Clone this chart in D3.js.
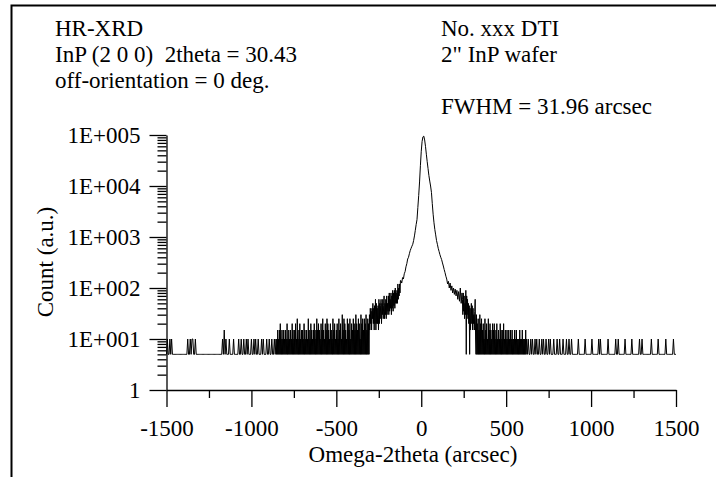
<!DOCTYPE html>
<html>
<head>
<meta charset="utf-8">
<script src="https://cdn.jsdelivr.net/npm/d3@7"></script>
<style>
  body { margin: 0; background: #fff; }
  svg { display: block; }
  text { font-family: "Liberation Serif", "Times New Roman", serif; fill: #000; }
</style>
</head>
<body>
<div class="canvas"></div>
<script>
// ---- data ----
// count codes used by the noisy segments
const codeChars = '123456789abcdefghij';
const codeCounts = [5, 10, 15, 20, 25, 30, 35, 40, 45, 50, 60, 70, 80, 90, 100, 120, 140, 160, 190];

const farLeft = ['12112121111111111', '1111111', '1211212211211111',
  '11111111111111111111111', '111213121112111121111121',
  '1211211212111211212112111212111211211211212'].join('');
const leftWing = ['12131213141213121312', '13121412131213121413', '12131412151213141213',
  '13121413121312151312', '14131213141213151314', '13121413151312141315',
  '14131214131215131412', '13141215131412161315', '14131215141315121413',
  '15141316141315141216', '14151315141613151416'].join('');
const leftShoulder = ['3847385a48394b3a48', '493b4a59b4a6b59c5a',
  '6b5c6a7c6d7b8d6c8e', '7d9e8fadaeagbfcgdh'].join('');
// peak, -120 .. +240 arcsec (counts)
const coreCounts = [140, 125, 160, 150,
  190, 210, 260, 300, 370, 400, 470, 540, 600, 660,
  720, 850, 1050, 1350, 1750, 2200, 3800, 6500, 12000, 25000,
  48000, 75000, 92000, 95000, 80000, 60000, 42000, 30000, 22000, 16000,
  12500, 10000, 7500, 4500, 2800, 1900, 1400, 1100, 850, 720,
  600, 520, 450, 400, 360, 310, 270, 230, 200, 170,
  150, 120, 135, 100, 125, 90, 110, 80, 100, 75,
  95, 70, 90, 60, 85, 55, 100, 50, 80];
const rightShoulder = 'b6d7c5a6e1c6b5a491837a49384637b2';
const rightWing = ['16141513161415131412', '15131412151314131214', '13141213141213121413',
  '12131412131213121312', '13121312121312131212', '12131212131212121312'].join('');
const farRight = ['1211212112', '1211211212', '1121121211', '1211121121', '1121112112', '11211',
  '1111121111', '1112111111', '1211111112', '1211111111', '2111111112', '1121111111',
  '2111111121', '1111111211', '2111111111', '1211111112', '1111111121', '1111111211', '1'].join('');

const xTicks = [-1500, -1000, -500, 0, 500, 1000, 1500];
const xMinor = [-1250, -750, -250, 250, 750, 1250];
const yTicks = [1, 10, 100, 1000, 10000, 100000];
const yLabels = ['1', '1E+001', '1E+002', '1E+003', '1E+004', '1E+005'];
const leftNotes = ['HR-XRD', 'InP (2 0 0)  2theta = 30.43', 'off-orientation = 0 deg.'];
const rightNotes = ['No. xxx DTI', '2" InP wafer', '', 'FWHM = 31.96 arcsec'];

const decode = s => s.split('').map(c => codeCounts[codeChars.indexOf(c)]);
// segments: [from, to, counts]
const segments = [
  [-1500, -855, decode(farLeft)],
  [-852.5, -305, decode(leftWing)],
  [-302.5, -122.5, decode(leftShoulder)],
  [-120, 240, coreCounts],
  [242.5, 320, decode(rightShoulder)],
  [322.5, 620, decode(rightWing)],
  [625, 1500, decode(farRight)]
];
const points = [];
segments.forEach(([a, b, vals]) => {
  vals.forEach((v, i) => points.push([a + i * (b - a) / (vals.length - 1), v]));
});

// ---- drawing ----
const W = 716, H = 477, fs = 23;
const svg = d3.select('.canvas').append('svg')
  .attr('width', W)
  .attr('height', H);

// outer frame (only top and left are inside the picture)
svg.append('path')
  .attr('d', `M11.5,${H} V5.5 H${W}`)
  .attr('fill', 'none')
  .attr('stroke', '#000')
  .attr('stroke-width', 2);

const x = d3.scaleLinear().domain([-1500, 1500]).range([166.5, 676]);
const y = d3.scaleLog().domain([1, 100000]).range([390, 135]);

// y axis, major + minor ticks
svg.append('g')
  .attr('transform', `translate(${x(-1500)},0)`)
  .call(d3.axisLeft(y).tickValues(yTicks).tickSize(17).tickSizeOuter(0).tickPadding(9)
    .tickFormat((d, i) => yLabels[i]));
const yMinor = [];
yTicks.slice(0, -1).forEach(t => { for (let k = 2; k <= 9; k++) yMinor.push(t * k); });
svg.append('g')
  .attr('transform', `translate(${x(-1500)},0)`)
  .call(d3.axisLeft(y).tickValues(yMinor).tickSize(9).tickSizeOuter(0).tickFormat(''))
  .select('.domain').remove();

// x axis
svg.append('g')
  .attr('transform', `translate(0,${y(1)})`)
  .call(d3.axisBottom(x).tickValues(xTicks).tickSize(17).tickSizeOuter(0).tickPadding(13)
    .tickFormat(d => String(d)));
svg.append('g')
  .attr('transform', `translate(0,${y(1)})`)
  .call(d3.axisBottom(x).tickValues(xMinor).tickSize(8).tickSizeOuter(0).tickFormat(''))
  .select('.domain').remove();

svg.selectAll('.tick line, .domain')
  .attr('stroke', '#000')
  .attr('stroke-width', 1.3);
svg.selectAll('.tick text')
  .style('font-size', fs + 'px')
  .style('font-family', '"Liberation Serif", "Times New Roman", serif')
  .attr('fill', '#000');

// the scan
svg.append('path')
  .datum(points)
  .attr('fill', 'none')
  .attr('stroke', '#000')
  .attr('stroke-width', 1)
  .attr('d', d3.line().x(d => x(d[0])).y(d => y(d[1])));

// axis titles
svg.append('text')
  .attr('x', 413)
  .attr('y', 462)
  .attr('text-anchor', 'middle')
  .style('font-size', fs + 'px')
  .text('Omega-2theta (arcsec)');
svg.append('text')
  .attr('transform', 'translate(53,262) rotate(-90)')
  .attr('text-anchor', 'middle')
  .style('font-size', fs + 'px')
  .text('Count (a.u.)');

// notes
svg.selectAll('.noteL').data(leftNotes).enter().append('text')
  .attr('x', 55)
  .attr('y', (d, i) => 36 + i * 26)
  .style('font-size', fs + 'px')
  .style('white-space', 'pre')
  .text(d => d);
svg.selectAll('.noteR').data(rightNotes).enter().append('text')
  .attr('x', 441)
  .attr('y', (d, i) => 36 + i * 26)
  .style('font-size', fs + 'px')
  .text(d => d);
</script>
</body>
</html>
